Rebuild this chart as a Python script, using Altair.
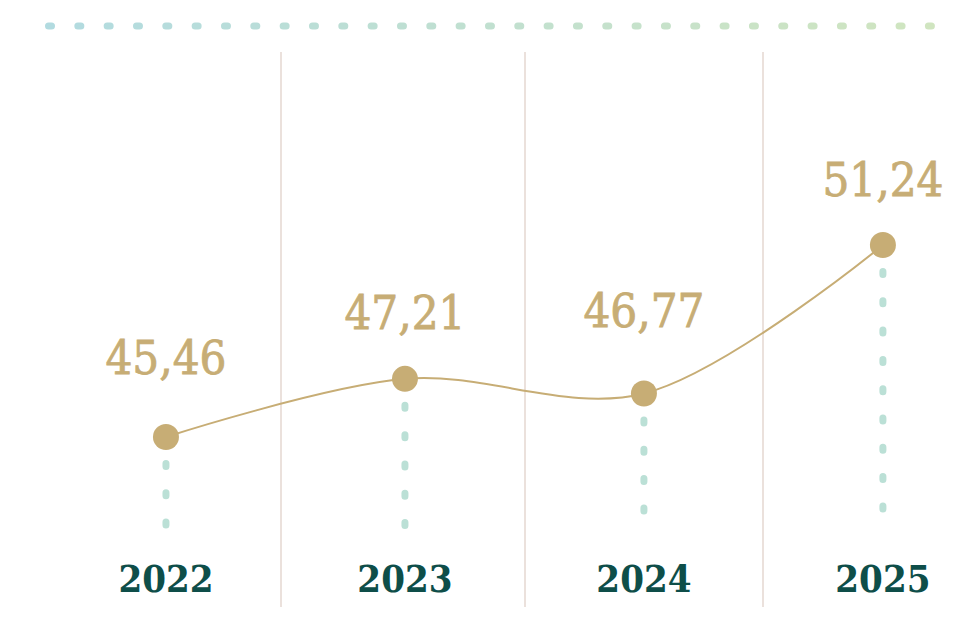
import altair as alt
import pandas as pd

# ---- data ----
years = [2022, 2023, 2024, 2025]
values = [45.46, 47.21, 46.77, 51.24]
value_labels = ["45,46", "47,21", "46,77", "51,24"]
year_labels = ["2022", "2023", "2024", "2025"]

df = pd.DataFrame({"year": years, "value": values,
                   "vlabel": value_labels, "ylabel": year_labels})

# ---- style ----
TAN = "#c7ad75"
GREEN = "#0e4e49"
SEP = "#ebe1dc"
DOT = "#bbe0d6"
FONT = "DejaVu Serif Condensed, DejaVu Serif"
TOP_C1 = (0xB2, 0xDB, 0xE0)
TOP_C2 = (0xD0, 0xE5, 0xC0)

xs = alt.Scale(domain=[2021.339, 2025.264], nice=False, zero=False)
ys = alt.Scale(domain=[40.162, 58.374], nice=False, zero=False)
X = alt.X("year:Q", scale=xs, axis=None)
Y = alt.Y("value:Q", scale=ys, axis=None)

one = pd.DataFrame({"k": [0]})


def mix(a, b, t):
    return "#%02x%02x%02x" % tuple(round(a[j] + (b[j] - a[j]) * t) for j in range(3))


# decorative dotted line at top (gradient)
top_layers = []
n_dots = 31
for i in range(n_dots):
    t = i / (n_dots - 1)
    cx = 42 + i * 29.33
    top_layers.append(
        alt.Chart(one).mark_rule(color=mix(TOP_C1, TOP_C2, t), strokeWidth=7,
                                 strokeCap="round")
        .encode(x=alt.value(cx - 1.5), x2=alt.value(cx + 1.5), y=alt.value(18))
    )

# separators
seps = [
    alt.Chart(one).mark_rule(color=SEP, strokeWidth=2)
    .encode(x=alt.value(px), y=alt.value(44), y2=alt.value(599))
    for px in [273, 517, 755]
]

base = alt.Chart(df)

dotted = base.mark_rule(color=DOT, strokeWidth=7, strokeCap="round",
                        strokeDash=[3, 26.3], strokeDashOffset=2.8).encode(
    x=X, y=Y, y2=alt.value(518))

line = base.mark_line(color=TAN, strokeWidth=2, interpolate="catmull-rom").encode(x=X, y=Y)
points = base.mark_circle(size=676, color=TAN, opacity=1).encode(x=X, y=Y)

label_dy = [-63, -50, -66, -49]
labels = [
    alt.Chart(df.iloc[[i]]).mark_text(font=FONT, fontSize=47, color=TAN,
                                      stroke=TAN, strokeWidth=0.8,
                                      baseline="alphabetic", align="center",
                                      dy=label_dy[i])
    .encode(x=X, y=Y, text="vlabel:N")
    for i in range(len(years))
]

year_text = base.mark_text(font=FONT, fontSize=38, fontWeight="bold", color=GREEN,
                           baseline="alphabetic", align="center").encode(
    x=X, y=alt.value(584), text="ylabel:N")

chart = alt.layer(*top_layers, *seps, dotted, line, points, *labels, year_text).properties(
    width=938, height=605, padding=0, autosize="none"
).configure_view(stroke=None)

chart.save("out.html", embed_options={"renderer": "svg", "actions": False})
